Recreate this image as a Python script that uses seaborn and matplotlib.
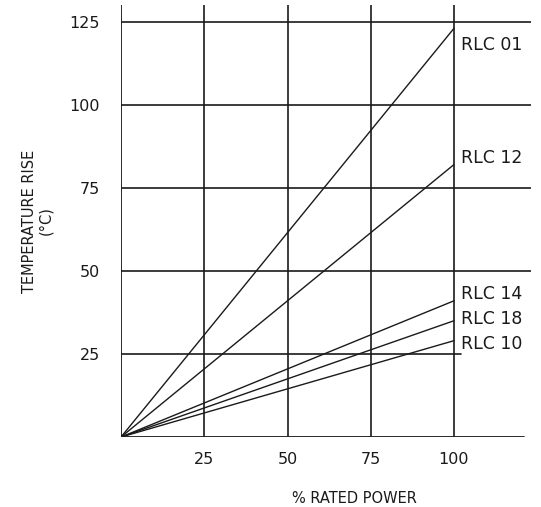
import pandas as pd
import matplotlib
matplotlib.use("Agg")
import matplotlib.pyplot as plt
import seaborn as sns

# resistor types and temperature rise at 0% and 100% rated power
series_names = ["RLC 01", "RLC 12", "RLC 14", "RLC 18", "RLC 10"]
rise_at_full = [123, 82, 41, 35, 29]
power_points = [0, 100]
label_y = [118, 84, 43, 35.5, 28]

xticks = [25, 50, 75, 100]
yticks = [25, 50, 75, 100, 125]

rows = []
for name, top in zip(series_names, rise_at_full):
    for p in power_points:
        rows.append({"power": p, "rise": top * p / 100, "type": name})
df = pd.DataFrame(rows)

sns.set_style("white")
plt.rcParams["font.family"] = ["DejaVu Sans"]

fig = plt.figure(figsize=(5.41, 5.07), dpi=100)
ax = fig.add_axes([0.2237, 0.138, 0.757, 0.852])

sns.lineplot(data=df, x="power", y="rise", units="type", estimator=None,
             color="#1a1a1a", lw=1.0, ax=ax, legend=False)

ax.set_xlim(0, 123)
ax.set_ylim(0, 130)

# grid lines
for t in xticks:
    ax.axvline(t, color="#1a1a1a", lw=1.2, zorder=0)
for t in yticks:
    ax.axhline(t, color="#1a1a1a", lw=1.2, zorder=0, xmax=(102 / 123) if t == 25 else 1)
ax.axhline(0, color="#1a1a1a", lw=1.3, xmax=0.985)
ax.axvline(0, color="#1a1a1a", lw=1.3)

for s in ax.spines.values():
    s.set_visible(False)

ax.set_xticks(xticks)
ax.set_yticks(yticks)
ax.set_xticklabels([str(t) for t in xticks], fontsize=11.5, color="#1a1a1a")
ax.set_yticklabels([str(t) for t in yticks], fontsize=11.5, color="#1a1a1a")
ax.tick_params(axis="x", length=0, pad=11)
ax.tick_params(axis="y", length=0, pad=15)

for name, y in zip(series_names, label_y):
    ax.text(102, y, name, fontsize=12.5, color="#1a1a1a", va="center", ha="left")

ax.set_xlabel("% RATED POWER", fontsize=10.5, color="#1a1a1a")
ax.xaxis.set_label_coords(0.57, -0.125)
ax.set_ylabel("TEMPERATURE RISE\n(°C)", fontsize=10.5, color="#1a1a1a", linespacing=1.1)
ax.yaxis.set_label_coords(-0.165, 0.5)

fig.savefig("out.png", dpi=100, facecolor="white")
